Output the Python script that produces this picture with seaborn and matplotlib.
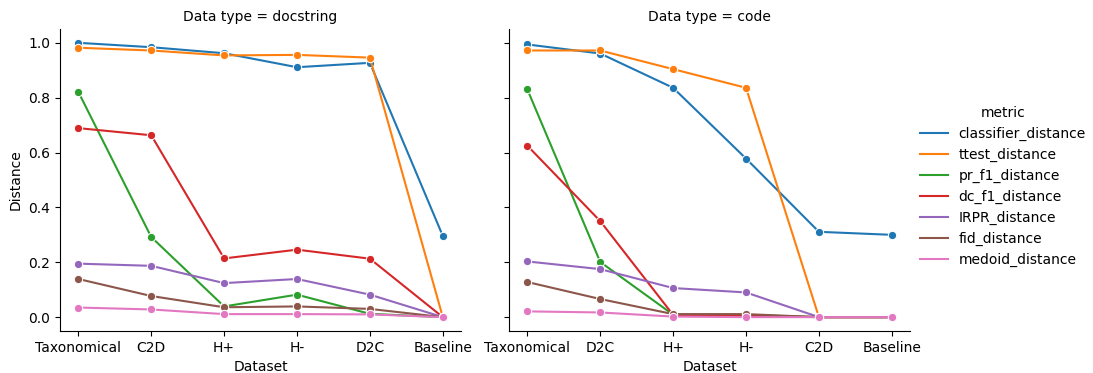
import matplotlib
matplotlib.use("Agg")
import matplotlib.pyplot as plt
import seaborn as sns
import pandas as pd

metrics = ["classifier_distance", "ttest_distance", "pr_f1_distance", "dc_f1_distance",
           "IRPR_distance", "fid_distance", "medoid_distance"]

doc_datasets = ["Taxonomical", "C2D", "H+", "H-", "D2C", "Baseline"]
code_datasets = ["Taxonomical", "D2C", "H+", "H-", "C2D", "Baseline"]

doc_values = {
    "classifier_distance": [1.000, 0.984, 0.962, 0.911, 0.927, 0.296],
    "ttest_distance":      [0.982, 0.972, 0.954, 0.956, 0.946, 0.000],
    "pr_f1_distance":      [0.821, 0.292, 0.039, 0.082, 0.012, 0.000],
    "dc_f1_distance":      [0.689, 0.663, 0.214, 0.246, 0.213, 0.000],
    "IRPR_distance":       [0.195, 0.187, 0.124, 0.139, 0.082, 0.000],
    "fid_distance":        [0.139, 0.077, 0.036, 0.039, 0.030, 0.000],
    "medoid_distance":     [0.035, 0.028, 0.011, 0.011, 0.010, 0.000],
}
code_values = {
    "classifier_distance": [0.994, 0.961, 0.836, 0.578, 0.311, 0.300],
    "ttest_distance":      [0.972, 0.972, 0.904, 0.836, 0.000, 0.000],
    "pr_f1_distance":      [0.830, 0.201, 0.009, 0.008, 0.000, 0.000],
    "dc_f1_distance":      [0.625, 0.350, 0.008, 0.005, 0.000, 0.000],
    "IRPR_distance":       [0.203, 0.175, 0.106, 0.090, 0.000, 0.000],
    "fid_distance":        [0.128, 0.066, 0.011, 0.011, 0.000, 0.000],
    "medoid_distance":     [0.021, 0.017, 0.002, 0.000, 0.000, 0.000],
}

rows = []
for dtype, dsets, vals in [("docstring", doc_datasets, doc_values), ("code", code_datasets, code_values)]:
    for i, ds in enumerate(dsets):
        for m in metrics:
            rows.append({"Data type": dtype, "Dataset": ds, "metric": m, "Distance": vals[m][i]})
df = pd.DataFrame(rows)

g = sns.relplot(data=df, x="Dataset", y="Distance", hue="metric", col="Data type",
                kind="line", marker="o", height=3.5, aspect=1.2,
                facet_kws={"sharex": False})
g.figure.set_size_inches(10.93, 3.73)
g.figure.subplots_adjust(left=0.055, right=0.8326, bottom=0.113, top=0.922, wspace=0.12)
for ax in g.axes.flat:
    ax.set_xlabel("Dataset")
for h in g.legend.legend_handles:
    h.set_marker("")
g.legend.set_bbox_to_anchor((1.005, 0.5), transform=g.figure.transFigure)
g.figure.savefig("out.png", dpi=100)
